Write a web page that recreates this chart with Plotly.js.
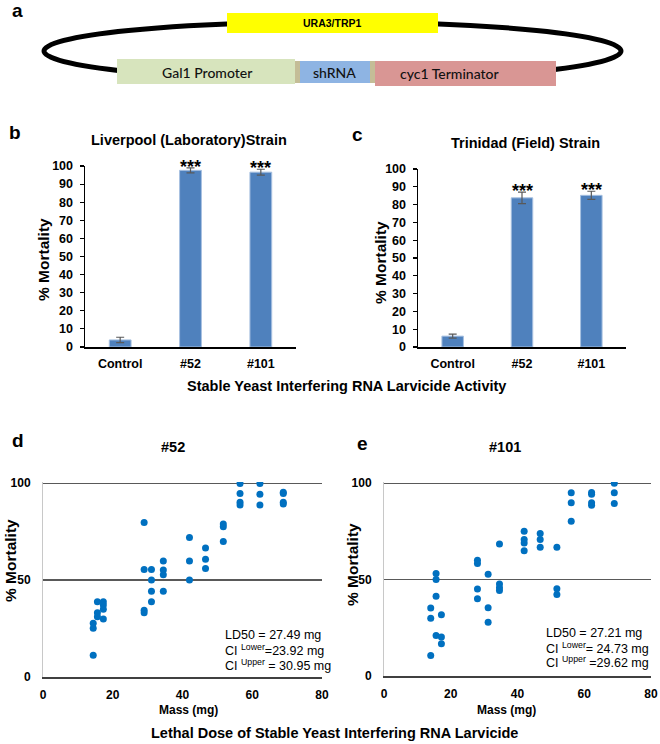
<!DOCTYPE html>
<html>
<head>
<meta charset="utf-8">
<script src="https://cdn.plot.ly/plotly-3.0.1.min.js"></script>
<style>
  html, body { margin: 0; padding: 0; background: #fff; }
  #fig { width: 660px; height: 744px; }
</style>
</head>
<body>
<div id="fig"></div>
<script>
// bar panels (b, c)
const barCategories = ["Control", "#52", "#101"];
const liverpoolMortality = [3.9, 97.6, 96.6];
const liverpoolError = [1.5, 1.4, 1.6];
const trinidadMortality = [6.1, 83.8, 85.2];
const trinidadError = [1.1, 3.2, 2.3];
const significance = ["", "***", "***"];

// dose panels (d, e): larval mass (mg) vs % mortality
const mass52 = [14.4, 14.4, 14.4, 15.6, 15.6, 15.6, 17.3, 17.3, 17.3, 17.3,
                29.0, 29.0, 29.0, 29.0, 31.1, 31.1, 31.1, 31.1, 34.5, 34.5, 34.5, 34.5,
                42.0, 42.0, 42.0, 46.6, 46.6, 46.6, 51.7, 51.7, 51.7,
                56.5, 56.5, 56.5, 56.5, 62.2, 62.2, 62.2, 68.9, 68.9, 68.9, 68.9];
const mortality52 = [27.7, 25.1, 11.2, 38.8, 33.1, 31.1, 38.8, 37.1, 35.0, 29.9,
                     79.7, 55.5, 34.5, 33.1, 55.5, 50.0, 44.3, 38.8, 59.8, 55.2, 52.8, 44.3,
                     72.0, 59.8, 50.0, 66.5, 60.8, 56.0, 78.9, 77.5, 69.9,
                     99.8, 94.7, 90.2, 88.7, 99.8, 94.3, 88.7, 94.7, 95.3, 90.2, 89.3];

const mass101 = [14.0, 14.0, 14.0, 15.6, 15.6, 15.6, 15.6, 17.2, 17.2, 17.2,
                 28.0, 28.0, 28.0, 28.0, 31.2, 31.2, 31.2, 34.6, 34.6, 34.6, 34.6,
                 42.0, 42.0, 42.0, 42.0, 46.8, 46.8, 46.8, 51.8, 51.8, 51.8,
                 56.1, 56.1, 56.1, 62.2, 62.2, 62.2, 62.2, 69.0, 69.0, 69.0];
const mortality101 = [35.2, 30.0, 10.6, 53.1, 50.1, 41.3, 21.0, 31.8, 20.2, 16.7,
                      60.0, 58.3, 45.1, 40.1, 52.7, 35.4, 27.9, 68.5, 47.7, 45.8, 44.4,
                      75.1, 70.8, 69.0, 65.0, 73.9, 70.8, 66.8, 66.8, 45.3, 42.2,
                      95.0, 89.8, 80.3, 95.1, 94.3, 89.8, 88.5, 99.9, 95.0, 89.4];

const ld52 = ["LD50 = 27.49 mg", "CI <sup>Lower</sup>=23.92 mg", "CI <sup>Upper</sup> = 30.95 mg"];
const ld101 = ["LD50 = 27.21 mg", "CI <sup>Lower</sup>= 24.73 mg", "CI <sup>Upper</sup> =29.62 mg"];

const W = 660, H = 744;
const px = x => x / W;
const py = y => 1 - y / H;
const ARIAL = "Liberation Sans";
const bold = (size) => ({family: ARIAL, size: size, color: "#000", weight: "bold"});

const barBlue = "#4f81bd";
const dotBlue = "#0070c0";

function barTrace(values, errors, xa, ya) {
    return {
        type: "bar",
        x: barCategories,
        y: values,
        width: 0.31,
        xaxis: xa, yaxis: ya,
        marker: {color: barBlue, line: {color: "#a7c0e0", width: 1}},
        error_y: {type: "data", array: errors, visible: true, color: "#595959", thickness: 1.2, width: 4},
    };
}

function doseTrace(x, y, xa, ya) {
    return {
        type: "scatter", mode: "markers",
        x: x, y: y, xaxis: xa, yaxis: ya,
        marker: {color: dotBlue, size: 7},
    };
}

const traces = [
    barTrace(liverpoolMortality, liverpoolError, "x", "y"),
    barTrace(trinidadMortality, trinidadError, "x2", "y2"),
    doseTrace(mass52, mortality52, "x3", "y3"),
    doseTrace(mass101, mortality101, "x4", "y4"),
];

function catAxis(x0, x1, anchor) {
    return {
        domain: [px(x0), px(x1)], anchor: anchor, type: "category",
        showline: true, linecolor: "#000", linewidth: 1.5,
        ticks: "", tickfont: bold(12.5), ticklabelstandoff: 4, fixedrange: true,
    };
}
function pctAxis(y0, y1, anchor) {
    return {
        domain: [py(y0), py(y1)], anchor: anchor, range: [0, 100], dtick: 10,
        showgrid: false, zeroline: false, showline: true, linecolor: "#000", linewidth: 1.5,
        ticks: "outside", ticklen: 4, tickcolor: "#000", tickwidth: 1.2,
        tickfont: bold(12.5), ticklabelstandoff: 4, fixedrange: true,
    };
}
function massAxis(x0, x1, anchor) {
    return {
        domain: [px(x0), px(x1)], anchor: anchor, range: [0, 80], dtick: 20,
        showgrid: false, zeroline: false, showline: true, linecolor: "#404040", linewidth: 1.5,
        ticks: "", tickfont: bold(12), ticklabelstandoff: 6, fixedrange: true,
    };
}
// range runs a hair past 100 so the 100 gridline is drawn inside the plot
function doseAxis(y0, y1, anchor) {
    return {
        domain: [py(y0), py(y1)], anchor: anchor, range: [0, 100.6], tickvals: [0, 50, 100],
        showgrid: true, gridcolor: "#595959", gridwidth: 1.2, zeroline: false,
        showline: true, linecolor: "#c8c8c8", linewidth: 1,
        ticks: "", tickfont: bold(12), ticklabelstandoff: 9, fixedrange: true,
    };
}

const annotations = [];
function text(x, y, t, font, extra) {
    annotations.push(Object.assign({
        xref: "paper", yref: "paper", x: px(x), y: py(y), text: t,
        showarrow: false, font: font, xanchor: "center", yanchor: "middle",
    }, extra || {}));
}

// panel letters
text(17, 11, "a", bold(19));
text(15, 133, "b", bold(19));
text(357, 134, "c", bold(19));
text(18, 440, "d", bold(19));
text(362, 443, "e", bold(19));

// bar panel titles and captions
text(189, 140, "Liverpool (Laboratory)Strain", bold(14.5));
text(525, 143, "Trinidad (Field) Strain", bold(14.5));
text(43, 260, "% Mortality", bold(15.5), {textangle: -90});
text(380, 263, "% Mortality", bold(15.5), {textangle: -90});
text(346, 386, "Stable Yeast Interfering RNA Larvicide Activity", bold(14.5));

// significance stars above the error bars
barCategories.forEach((c, i) => {
    if (!significance[i]) return;
    annotations.push({xref: "x", yref: "y", x: c, y: liverpoolMortality[i] + liverpoolError[i],
        text: significance[i], showarrow: false, font: bold(18), yanchor: "middle", yshift: 1});
    annotations.push({xref: "x2", yref: "y2", x: c, y: trinidadMortality[i] + trinidadError[i],
        text: significance[i], showarrow: false, font: bold(18), yanchor: "middle", yshift: 1});
});

// dose panels
text(173, 447, "#52", bold(14.5));
text(505, 447, "#101", bold(14.5));
text(10, 561, "% Mortality", bold(15.5), {textangle: -90});
text(352, 565, "% Mortality", bold(15.5), {textangle: -90});
text(188, 710, "Mass (mg)", bold(12));
text(506, 710, "Mass (mg)", bold(12));
text(334, 733, "Lethal Dose of Stable Yeast Interfering RNA Larvicide", bold(14.5));

const regular = {family: ARIAL, size: 12.5, color: "#000"};
ld52.forEach((t, i) => text(223, 635 + 15 * i, t, regular, {xanchor: "left"}));
ld101.forEach((t, i) => text(544, 633 + 14.5 * i, t, regular, {xanchor: "left"}));

// plasmid schematic (panel a)
const LATO = "Lato";
const shapes = [];
function box(x0, y0, x1, y1, fill) {
    shapes.push({type: "rect", xref: "paper", yref: "paper",
        x0: px(x0), x1: px(x1), y0: py(y1), y1: py(y0),
        fillcolor: fill, line: {width: 0}});
}
shapes.push({type: "circle", xref: "paper", yref: "paper",
    x0: px(44), x1: px(621), y0: py(80), y1: py(22),
    line: {color: "#000", width: 5}, fillcolor: "rgba(0,0,0,0)"});
box(227, 13, 438, 33, "#ffff00");
box(117, 59, 295, 84, "#d7e4bd");
box(295, 61, 300, 83, "#c4bd97");
box(300, 61, 370, 83, "#8eb4e3");
box(370, 61, 375, 83, "#c4bd97");
box(375, 61, 556, 86, "#d99694");

const labelFont = {family: LATO, size: 14, color: "#111", weight: 500};
text(332, 23, "URA3/TRP1", bold(10.5));
text(208, 72, "Gal1 Promoter", labelFont);
text(334, 72, "shRNA", labelFont);
text(450, 73, "cyc1 Terminator", labelFont);

const layout = {
    width: W, height: H,
    margin: {l: 0, r: 0, t: 0, b: 0},
    paper_bgcolor: "#fff", plot_bgcolor: "#fff",
    showlegend: false,
    font: {family: ARIAL, color: "#000"},
    xaxis: catAxis(85, 296, "y"),
    yaxis: pctAxis(347, 166, "x"),
    xaxis2: catAxis(418, 626, "y2"),
    yaxis2: pctAxis(347, 169, "x2"),
    xaxis3: massAxis(43, 322, "y3"),
    yaxis3: doseAxis(677, 482, "x3"),
    xaxis4: massAxis(384, 651, "y4"),
    yaxis4: doseAxis(676, 482, "x4"),
    shapes: shapes,
    annotations: annotations,
};

Plotly.newPlot("fig", traces, layout, {displayModeBar: false, staticPlot: true});
</script>
</body>
</html>
